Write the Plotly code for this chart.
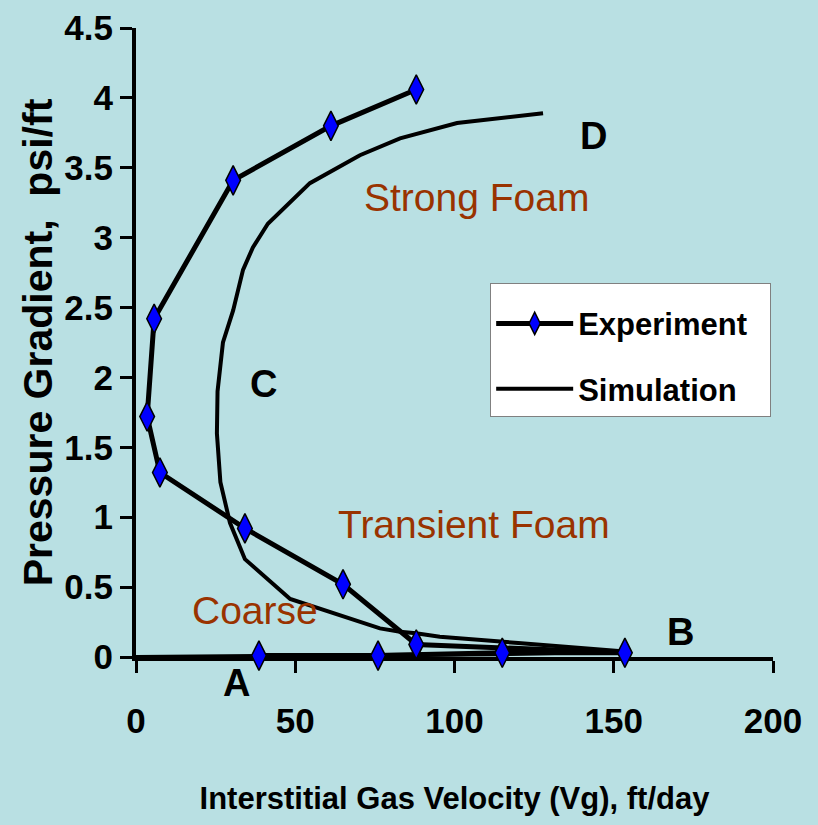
import plotly.graph_objects as go

# ---------------- data ----------------
exp_x = [38.6, 76, 115, 153.5, 88, 65, 34.2, 7.5, 3.5, 5.7, 30.5, 61.2, 88]
exp_y = [0.01, 0.01, 0.03, 0.03, 0.09, 0.52, 0.92, 1.32, 1.72, 2.42, 3.41, 3.80, 4.06]

sim_x = [0, 38, 76, 115, 153.5, 120, 95.4, 87.9, 82.9, 76.6, 62, 48.4, 34.2, 29.5, 26.5,
         25.4, 25.6, 27.3, 30.5, 33.6, 36.7, 41.4, 54.6, 70.3, 82.9, 100.8, 127.8]
sim_y = [0, 0.01, 0.015, 0.02, 0.04, 0.1, 0.145, 0.17, 0.18, 0.205, 0.315, 0.415, 0.70, 0.96, 1.25,
         1.6, 1.9, 2.25, 2.48, 2.77, 2.93, 3.10, 3.39, 3.59, 3.71, 3.82, 3.89]

x_ticks = [0, 50, 100, 150, 200]
y_ticks = [0, 0.5, 1, 1.5, 2, 2.5, 3, 3.5, 4, 4.5]

region_text = ["Strong Foam", "Transient Foam", "Coarse"]
region_x = [107, 106, 37.4]
region_y = [3.29, 0.95, 0.33]

point_text = ["A", "B", "C", "D"]
point_x = [31.7, 170.8, 39.9, 143.5]
point_y = [0, 0.18, 1.95, 3.73]
point_shift = [-26, 0, 0, 0]

# ---------------- style ----------------
BG = "#B9E0E3"
BROWN = "#993300"
SANS = "Liberation Sans, Arial, sans-serif"
NB = "\u00a0"

fig = go.Figure()

fig.add_trace(go.Scatter(
    x=sim_x, y=sim_y, name="Simulation" + NB * 2, mode="lines",
    line=dict(color="black", width=4), cliponaxis=False, legendrank=2,
    legendgroup="sim",
))
fig.add_trace(go.Scatter(
    x=exp_x, y=exp_y, name="Experiment" + NB * 2, mode="lines+markers",
    line=dict(color="black", width=5),
    marker=dict(symbol="diamond-tall", size=21, color="#0000FF",
                line=dict(color="black", width=1.5)),
    cliponaxis=False, legendrank=1, legendgroup="exp",
))

annotations = []
for t, x, y in zip(region_text, region_x, region_y):
    annotations.append(dict(x=x, y=y, xref="x", yref="y", text=t, showarrow=False,
                            font=dict(family=SANS, size=39, color=BROWN)))
for t, x, y, s in zip(point_text, point_x, point_y, point_shift):
    annotations.append(dict(x=x, y=y, xref="x", yref="y", text=t, showarrow=False,
                            yshift=s,
                            font=dict(family=SANS, size=38, color="black", weight="bold")))

fig.update_layout(
    width=818, height=825,
    margin=dict(l=136, r=45, t=28, b=168),
    paper_bgcolor=BG, plot_bgcolor=BG,
    annotations=annotations,
    legend=dict(x=0.556, y=0.595, xanchor="left", yanchor="top",
                bgcolor="white", bordercolor="#808080", borderwidth=1,
                itemwidth=77, tracegroupgap=22,
                title=dict(text=NB, font=dict(size=10)),
                font=dict(family=SANS, size=31, color="black", weight="bold")),
)

fig.update_xaxes(
    range=[0, 200], tickvals=x_ticks, showgrid=False, zeroline=False, automargin=False,
    showline=True, linecolor="black", linewidth=4, layer="below traces",
    ticks="outside", ticklen=12, tickwidth=3, tickcolor="black", ticklabelstandoff=18,
    tickfont=dict(family=SANS, size=35, color="black", weight="bold"),
    title=dict(text="Interstitial Gas Velocity (Vg), ft/day", standoff=49,
               font=dict(family=SANS, size=31, color="black", weight="bold")),
)
fig.update_yaxes(
    range=[0, 4.5], tickvals=y_ticks, showgrid=False, zeroline=False, automargin=False,
    showline=True, linecolor="black", linewidth=4, layer="below traces",
    ticks="outside", ticklen=12, tickwidth=3, tickcolor="black",
    tickfont=dict(family=SANS, size=35, color="black", weight="bold"),
    title=dict(text="Pressure Gradient,\u00a0 psi/ft", standoff=0,
               font=dict(family=SANS, size=41, color="black", weight="bold")),
)

fig.write_html("out.html")
